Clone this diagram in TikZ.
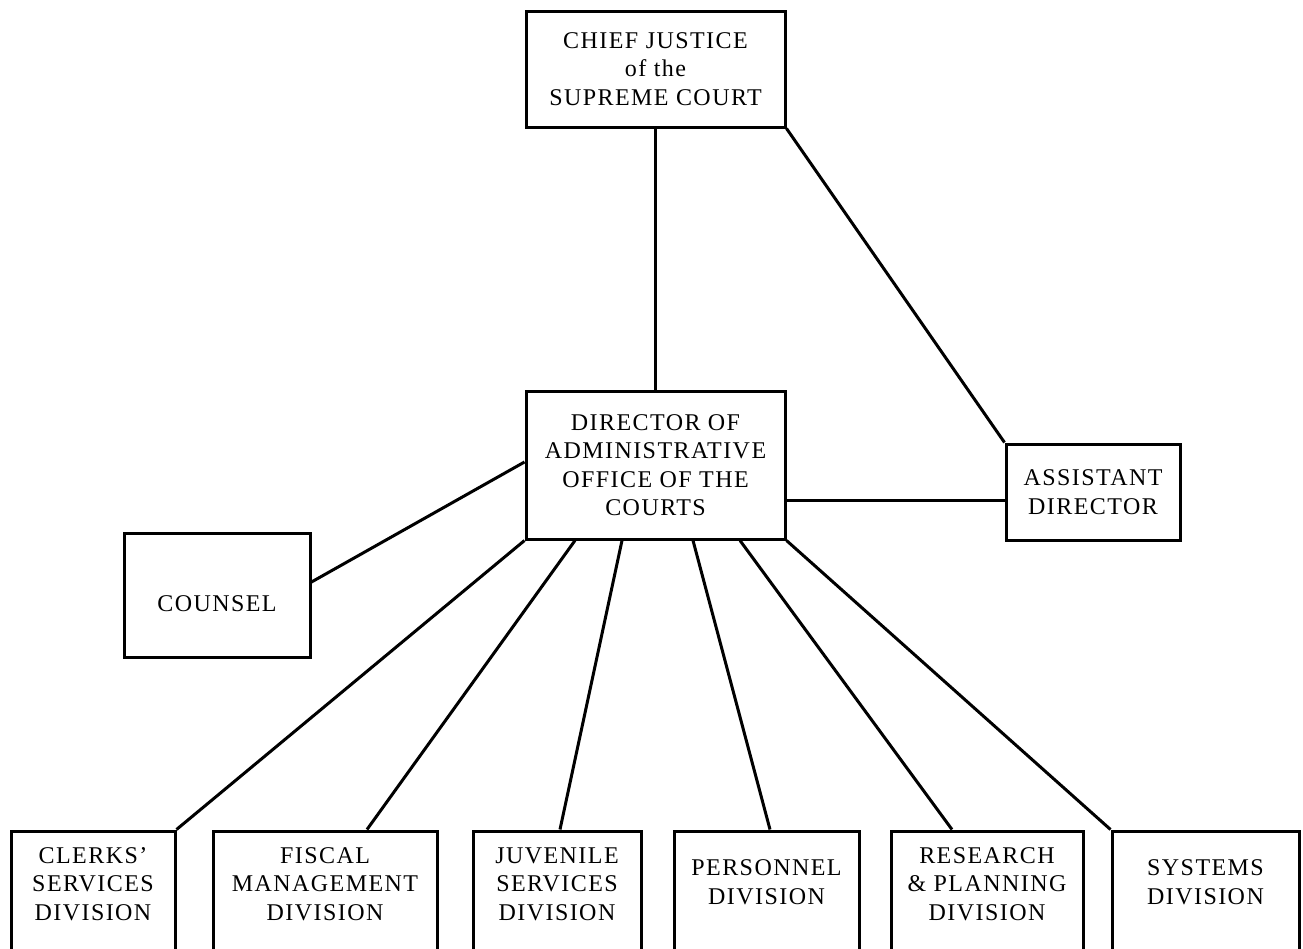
\documentclass[tikz,border=0pt]{standalone}
\usepackage{fontspec}
\setmainfont{Liberation Serif}[LetterSpace=6]
\usetikzlibrary{calc}
\begin{document}
\begin{tikzpicture}[x=1pt,y=-1pt,
  box/.style={draw, line width=3pt, inner sep=0pt, align=center, font=\fontsize{24}{28.5}\selectfont},
  divbox/.style={draw, line width=3pt, inner sep=0pt, minimum height=129pt},
  link/.style={line width=3pt},
  txt/.style={align=center, inner sep=0pt, font=\fontsize{24}{28.5}\selectfont}]
\useasboundingbox (0,0) rectangle (1303,948);
\fill[white] (0,0) rectangle (1303,948);
\clip (0,0) rectangle (1303,948);

% top boxes
\node[box, minimum width=259pt, minimum height=116pt] (chief) at (655.5,69)
  {CHIEF JUSTICE\\of the\\SUPREME COURT};
\node[box, minimum width=259pt, minimum height=148pt] (director) at (655.5,465)
  {DIRECTOR OF\\ADMINISTRATIVE\\OFFICE OF THE\\COURTS};
\node[box, minimum width=174pt, minimum height=96pt] (assistant) at (1093,492)
  {ASSISTANT\\DIRECTOR};
\node[box, minimum width=186pt, minimum height=124pt] (counsel) at (217,595) {};
\node[txt] (counselt) at (217,604) {COUNSEL};

% divisions
\node[divbox, minimum width=164pt] (clerks) at (93,895.5) {};
\node[divbox, minimum width=224pt] (fiscal) at (325,895.5) {};
\node[divbox, minimum width=168pt] (juvenile) at (557,895.5) {};
\node[divbox, minimum width=185pt] (personnel) at (766.5,895.5) {};
\node[divbox, minimum width=192pt] (research) at (987,895.5) {};
\node[divbox, minimum width=187pt] (systems) at (1205.5,895.5) {};

\node[txt] (clerkst) at (93,884) {CLERKS'\\SERVICES\\DIVISION};
\node[txt] (fiscalt) at (325,884) {FISCAL\\MANAGEMENT\\DIVISION};
\node[txt] (juvenilet) at (557,884) {JUVENILE\\SERVICES\\DIVISION};
\node[txt] (personnelt) at (766.5,882) {PERSONNEL\\DIVISION};
\node[txt] (researcht) at (987,884) {RESEARCH\\\& PLANNING\\DIVISION};
\node[txt] (systemst) at (1205.5,882) {SYSTEMS\\DIVISION};

% connectors
\coordinate (adl) at (0,500);
\draw[link] (chief.south) -- (director.north);
\draw[link] (chief.south east) -- (assistant.north west);
\draw[link] (director.east |- adl) -- (assistant.west |- adl);
\draw[link] ([yshift=3pt]director.west) -- ([yshift=13pt]counsel.east);
\draw[link] (director.south west) -- (clerks.north east);
\draw[link] ([xshift=-80.5pt]director.south) -- ([xshift=42pt]fiscal.north);
\draw[link] ([xshift=-33.5pt]director.south) -- ([xshift=3pt]juvenile.north);
\draw[link] ([xshift=37.5pt]director.south) -- ([xshift=3.5pt]personnel.north);
\draw[link] ([xshift=84.5pt]director.south) -- ([xshift=-35pt]research.north);
\draw[link] (director.south east) -- (systems.north west);
\end{tikzpicture}
\end{document}
